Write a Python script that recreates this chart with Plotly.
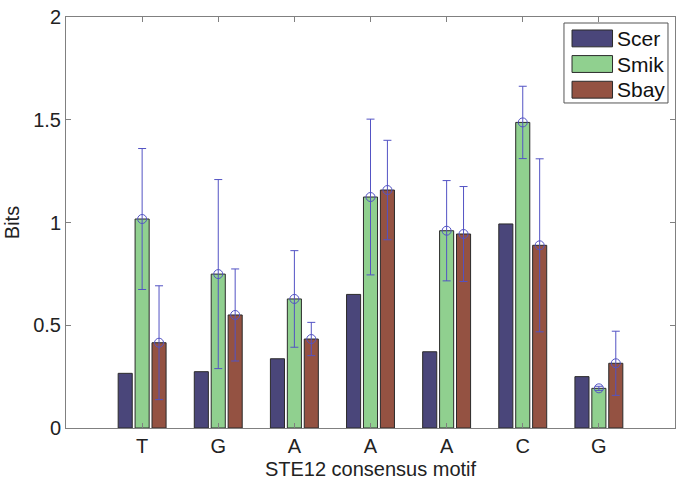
import numpy as np
import plotly.graph_objects as go

motif = ["T", "G", "A", "A", "A", "C", "G"]
series = ["Scer", "Smik", "Sbay"]
scer = [0.266, 0.274, 0.337, 0.650, 0.371, 0.993, 0.250]
smik = [1.017, 0.749, 0.628, 1.124, 0.960, 1.487, 0.193]
smik_err = [0.343, 0.460, 0.235, 0.379, 0.244, 0.176, 0.010]
sbay = [0.415, 0.550, 0.433, 1.158, 0.944, 0.889, 0.315]
sbay_err = [0.277, 0.224, 0.081, 0.242, 0.231, 0.421, 0.156]

colors = ["#4a467a", "#90d08f", "#945242"]
err_color = "#5353c4"
FONT = "Liberation Sans, Arial, Helvetica, sans-serif"

pos = np.arange(1, len(motif) + 1)
step = 2 / 9
offsets = [-step, 0, step]
bar_w = 0.185

fig = go.Figure()
for name, vals, col, off in zip(series, [scer, smik, sbay], colors, offsets):
    fig.add_trace(go.Bar(x=pos + off, y=vals, width=bar_w, name=name,
                         marker=dict(color=col, line=dict(color="#2b2b2b", width=1)),
                         showlegend=False))

for vals, errs, off in [(smik, smik_err, offsets[1]), (sbay, sbay_err, offsets[2])]:
    fig.add_trace(go.Scatter(x=pos + off, y=vals, mode="markers",
                             marker=dict(symbol="circle-open", size=9, color=err_color,
                                         line=dict(width=1, color=err_color)),
                             error_y=dict(type="data", array=errs, visible=True,
                                          color=err_color, thickness=1, width=4),
                             showlegend=False, hoverinfo="skip"))

# legend (drawn as box + patches + text)
lx0, lx1 = 0.8177, 0.9885
ly0, ly1 = 0.7908, 0.9854
fig.add_shape(type="rect", xref="paper", yref="paper", x0=lx0, x1=lx1, y0=ly0, y1=ly1,
              line=dict(color="#555555", width=1), fillcolor="white", layer="above")
row_y = [0.9479, 0.8856, 0.8231]
for name, col, ry in zip(series, colors, row_y):
    fig.add_shape(type="rect", xref="paper", yref="paper", x0=0.8309, x1=0.8974,
                  y0=ry - 0.0205, y1=ry + 0.0205,
                  line=dict(color="#2b2b2b", width=1), fillcolor=col, layer="above")
    fig.add_annotation(xref="paper", yref="paper", x=0.9015, y=ry, text=name,
                       showarrow=False, xanchor="left", yanchor="middle",
                       font=dict(family=FONT, size=21, color="#111111"))

axis_common = dict(showline=True, linecolor="#808080", linewidth=1, mirror="ticks",
                   ticks="inside", ticklen=5, tickcolor="#808080", showgrid=False,
                   zeroline=False, automargin=False,
                   tickfont=dict(family=FONT, size=20, color="#222222"))

fig.update_layout(
    width=685, height=480,
    margin=dict(l=66, r=10, t=17, b=52),
    plot_bgcolor="white", paper_bgcolor="white",
    barmode="overlay",
    xaxis=dict(range=[0, 8], tickmode="array", tickvals=pos, ticktext=motif,
               title=dict(text="STE12 consensus motif", standoff=5,
                          font=dict(family=FONT, size=20, color="#222222")),
               **axis_common),
    yaxis=dict(range=[0, 2], tickmode="array", tickvals=[0, 0.5, 1, 1.5, 2],
               ticktext=["0", "0.5", "1", "1.5", "2"],
               title=dict(text="Bits", standoff=8,
                          font=dict(family=FONT, size=20, color="#222222")),
               **axis_common),
)

fig.write_html("out.html", config={"displayModeBar": False},
               post_script="document.body.style.margin='0';document.body.style.overflow='hidden';")
